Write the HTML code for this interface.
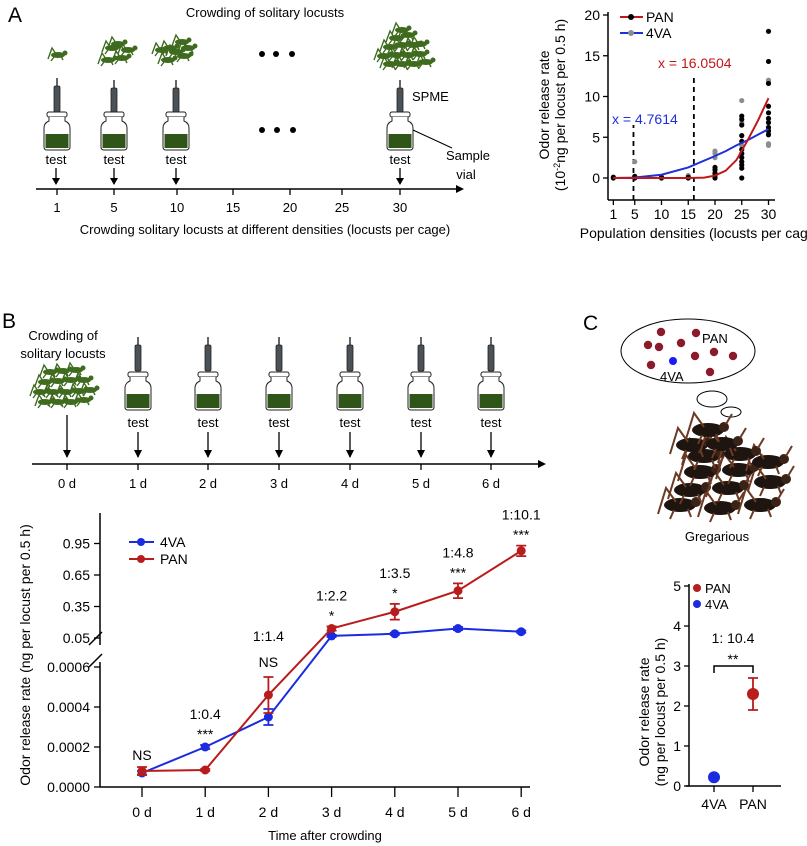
<!DOCTYPE html>
<html><head><meta charset="utf-8">
<style>
body{margin:0;background:#fff;}
svg{display:block;font-family:"Liberation Sans",Arial,sans-serif;}
</style></head>
<body>
<svg id="fig" width="807" height="846" viewBox="0 0 807 846" xmlns="http://www.w3.org/2000/svg">
<defs>
  <g id="locust">
    <ellipse cx="0" cy="0" rx="7" ry="3" fill="#3f6b1f"/>
    <circle cx="7" cy="-2" r="2.5" fill="#3f6b1f"/>
    <path d="M-2,-1 L-6,-7 L-10,4 M3,1 L5,5 M-4,2 L-7,6" stroke="#3f6b1f" stroke-width="1.4" fill="none"/>
  </g>
  <g id="blocust">
    <ellipse cx="0" cy="0" rx="16" ry="7" fill="#1e1410"/>
    <circle cx="16" cy="-3" r="5" fill="#3a2216"/>
    <path d="M-4,-3 L-14,-17 L-22,9 M8,4 L11,12 M-6,5 L-10,14 M18,-6 L24,-16" stroke="#6b3a22" stroke-width="2" fill="none"/>
  </g>
  <g id="syringe">
    <line x1="0" y1="0" x2="0" y2="8" stroke="#333" stroke-width="1.5"/>
    <rect x="-3" y="8" width="6" height="26" rx="1.5" fill="#4a5257" stroke="#222" stroke-width="0.8"/>
    <line x1="0" y1="34" x2="0" y2="58" stroke="#999" stroke-width="1"/>
  </g>
  <g id="vial">
    <rect x="-10" y="0" width="20" height="5" rx="2" fill="#fff" stroke="#222" stroke-width="1"/>
    <path d="M-8,5 L-8,9 Q-13,11 -13,16 L-13,35 Q-13,38 -10,38 L10,38 Q13,38 13,35 L13,16 Q13,11 8,9 L8,5" fill="#fff" stroke="#222" stroke-width="1"/>
    <rect x="-11.5" y="22" width="23" height="14" fill="#2f5618"/>
  </g>
</defs>

<!-- Panel A left -->
<g>
  <text x="8" y="22" font-size="21">A</text>
  <text x="265" y="17" font-size="13" text-anchor="middle">Crowding of solitary locusts</text>
  <use href="#locust" x="58" y="55"/>
  <use href="#locust" x="112" y="48"/><use href="#locust" x="108" y="60"/><use href="#locust" x="122" y="58"/><use href="#locust" x="118" y="44"/><use href="#locust" x="128" y="50"/>
  <use href="#locust" x="170" y="48"/><use href="#locust" x="182" y="42"/><use href="#locust" x="168" y="60"/><use href="#locust" x="184" y="56"/><use href="#locust" x="176" y="52"/><use href="#locust" x="188" y="48"/><use href="#locust" x="162" y="50"/>
  <g>
    <use href="#locust" x="390" y="64"/><use href="#locust" x="402" y="64"/><use href="#locust" x="414" y="64"/><use href="#locust" x="426" y="62"/>
    <use href="#locust" x="384" y="56"/><use href="#locust" x="396" y="55"/><use href="#locust" x="408" y="55"/><use href="#locust" x="420" y="54"/>
    <use href="#locust" x="390" y="47"/><use href="#locust" x="402" y="45"/><use href="#locust" x="414" y="45"/><use href="#locust" x="420" y="44"/>
    <use href="#locust" x="396" y="38"/><use href="#locust" x="408" y="35"/><use href="#locust" x="402" y="30"/>
  </g>
  <g fill="#000"><circle cx="262" cy="54" r="3"/><circle cx="276" cy="54" r="3"/><circle cx="292" cy="54" r="3"/>
  <circle cx="262" cy="130" r="3"/><circle cx="277" cy="130" r="3"/><circle cx="293" cy="130" r="3"/></g>
  <use href="#syringe" x="57" y="78"/><use href="#vial" x="57" y="112"/>
  <use href="#syringe" x="114" y="80"/><use href="#vial" x="114" y="112"/>
  <use href="#syringe" x="176" y="80"/><use href="#vial" x="176" y="112"/>
  <use href="#syringe" x="400" y="80"/><use href="#vial" x="400" y="112"/>
  <text x="412" y="101" font-size="13">SPME</text>
  <line x1="413" y1="130" x2="452" y2="148" stroke="#000" stroke-width="1"/>
  <text x="468" y="160" font-size="13" text-anchor="middle">Sample</text>
  <text x="466" y="179" font-size="13" text-anchor="middle">vial</text>
  <g font-size="13" text-anchor="middle">
    <text x="56" y="164">test</text><text x="114" y="164">test</text><text x="176" y="164">test</text><text x="400" y="164">test</text>
  </g>
  <g stroke="#000" stroke-width="1.3">
    <line x1="56" y1="168" x2="56" y2="184"/><line x1="114" y1="168" x2="114" y2="184"/><line x1="176" y1="168" x2="176" y2="184"/><line x1="400" y1="168" x2="400" y2="184"/>
  </g>
  <g fill="#000"><path d="M52,178 L56,185 L60,178Z"/><path d="M110,178 L114,185 L118,178Z"/><path d="M172,178 L176,185 L180,178Z"/><path d="M396,178 L400,185 L404,178Z"/></g>
  <line x1="36" y1="189" x2="460" y2="189" stroke="#000" stroke-width="1.5"/>
  <path d="M456,185 L464,189 L456,193Z" fill="#000"/>
  <g stroke="#000" stroke-width="1.3">
    <line x1="57" y1="189" x2="57" y2="195"/><line x1="114" y1="189" x2="114" y2="195"/><line x1="177" y1="189" x2="177" y2="195"/><line x1="233" y1="189" x2="233" y2="195"/><line x1="290" y1="189" x2="290" y2="195"/><line x1="342" y1="189" x2="342" y2="195"/><line x1="400" y1="189" x2="400" y2="195"/>
  </g>
  <g font-size="13" text-anchor="middle">
    <text x="57" y="212">1</text><text x="114" y="212">5</text><text x="177" y="212">10</text><text x="233" y="212">15</text><text x="290" y="212">20</text><text x="342" y="212">25</text><text x="400" y="212">30</text>
  </g>
  <text x="265" y="234" font-size="13" text-anchor="middle">Crowding solitary locusts at different densities (locusts per cage)</text>
</g>

<!-- Panel A right chart -->
<g id="chartA"></g>

<!-- Panel B schematic -->
<g>
  <text x="2" y="328" font-size="21">B</text>
  <text x="63" y="340" font-size="13" text-anchor="middle">Crowding of</text>
  <text x="63" y="358" font-size="13" text-anchor="middle">solitary locusts</text>
  <g>
    <use href="#locust" x="45" y="402"/><use href="#locust" x="58" y="402"/><use href="#locust" x="71" y="402"/><use href="#locust" x="84" y="400"/>
    <use href="#locust" x="40" y="392"/><use href="#locust" x="53" y="392"/><use href="#locust" x="66" y="392"/><use href="#locust" x="79" y="391"/><use href="#locust" x="90" y="390"/>
    <use href="#locust" x="45" y="382"/><use href="#locust" x="58" y="381"/><use href="#locust" x="71" y="380"/><use href="#locust" x="84" y="380"/>
    <use href="#locust" x="50" y="372"/><use href="#locust" x="63" y="371"/><use href="#locust" x="76" y="370"/>
  </g>
  <g id="bVials"></g>
  <line x1="32" y1="464" x2="541" y2="464" stroke="#000" stroke-width="1.5"/>
  <path d="M538,460 L546,464 L538,468Z" fill="#000"/>
</g>

<!-- Panel B chart -->
<g id="chartB"></g>

<!-- Panel C schematic -->
<g>
  <text x="583" y="330" font-size="21">C</text>
  <ellipse cx="688" cy="351" rx="67" ry="32" fill="#fff" stroke="#000" stroke-width="1"/>
  <g fill="#8b1a2b">
    <circle cx="661" cy="332" r="4.2"/><circle cx="696" cy="333" r="4.2"/><circle cx="681" cy="343" r="4.2"/><circle cx="648" cy="345" r="4.2"/><circle cx="659" cy="347" r="4.2"/>
    <circle cx="695" cy="356" r="4.2"/><circle cx="714" cy="352" r="4.2"/><circle cx="733" cy="356" r="4.2"/><circle cx="651" cy="365" r="4.2"/><circle cx="710" cy="372" r="4.2"/>
  </g>
  <circle cx="673" cy="361" r="4" fill="#1a1aff"/>
  <text x="702" y="343" font-size="13">PAN</text>
  <text x="660" y="381" font-size="13">4VA</text>
  <ellipse cx="712" cy="399" rx="15" ry="8" fill="#fff" stroke="#000"/>
  <ellipse cx="731" cy="412" rx="10" ry="5" fill="#fff" stroke="#000"/>
  <g>
    <use href="#blocust" x="680" y="505"/><use href="#blocust" x="720" y="508"/><use href="#blocust" x="760" y="505"/>
    <use href="#blocust" x="690" y="490"/><use href="#blocust" x="728" y="488"/><use href="#blocust" x="770" y="482"/>
    <use href="#blocust" x="700" y="472"/><use href="#blocust" x="738" y="470"/><use href="#blocust" x="768" y="462"/>
    <use href="#blocust" x="704" y="456"/><use href="#blocust" x="740" y="454"/>
    <use href="#blocust" x="692" y="445"/><use href="#blocust" x="722" y="444"/>
    <use href="#blocust" x="708" y="430"/>
  </g>
  <text x="717" y="541" font-size="13" text-anchor="middle">Gregarious</text>
</g>

<!-- Panel C chart -->
<g id="chartC"></g>
</svg>

<script>
const NS="http://www.w3.org/2000/svg";
function mk(parent,tag,attrs,text){const e=document.createElementNS(NS,tag);for(const k in attrs)e.setAttribute(k,attrs[k]);if(text!==undefined)e.textContent=text;parent.appendChild(e);return e;}

// ---------- Panel A chart data ----------
const aTickX=[1,5,10,15,20,25,30];
const aTickY=[0,5,10,15,20];
const panDotX=[1,1,5,5,5,10,10,15,15,20,20,20,20,20,25,25,25,25,25,25,25,25,25,25,25,25,30,30,30,30,30,30,30,30,30,30];
const panDotY=[0,0.1,0,0.1,0.2,0,0.1,0,0.1,0,0.3,0.6,1.0,1.3,0,1.2,1.6,2,2.5,3,3.5,4.5,5.2,6.5,7.2,7.6,18,14.3,11.6,8.8,8,7.3,6.8,6.2,5.8,5.3];
const vaDotX=[5,15,20,20,20,25,25,25,25,30,30,30,30,30,30];
const vaDotY=[2,0.3,2.5,3,3.3,9.5,6.8,4,3,12,11.8,6.2,5.5,4.2,4];
const panFitX=[1,5,10,15,18,20,22,24,26,28,30];
const panFitY=[0,0,0,0,0.05,0.3,0.9,2.2,4.5,7,9.8];
const vaFitX=[1,5,10,15,20,22,24,26,28,30];
const vaFitY=[0,0.05,0.4,1.3,2.7,3.3,4,4.6,5.3,6];
const thresholds=[4.7614,16.0504];

(function(){
 const g=document.getElementById('chartA');
 const xA=v=>608+v*5.35, yA=v=>178-v*8.15;
 mk(g,'line',{x1:608,y1:12,x2:608,y2:200,stroke:'#000','stroke-width':1.5});
 mk(g,'line',{x1:608,y1:200,x2:775,y2:200,stroke:'#000','stroke-width':1.5});
 aTickY.forEach(t=>{mk(g,'line',{x1:603,y1:yA(t),x2:608,y2:yA(t),stroke:'#000','stroke-width':1.3});
   const tx=mk(g,'text',{x:600,y:yA(t)+5,'font-size':14,'text-anchor':'end'},String(t));
   
   });
 aTickX.forEach(t=>{mk(g,'line',{x1:xA(t),y1:200,x2:xA(t),y2:205,stroke:'#000','stroke-width':1.3});
   const tx=mk(g,'text',{x:xA(t),y:219,'font-size':14,'text-anchor':'middle'},String(t));
   
   });
 const xt=mk(g,'text',{x:700,y:238,'font-size':14,'text-anchor':'middle'},'Population densities (locusts per cage)');
 
 
 const yt=mk(g,'text',{transform:'translate(563,105) rotate(-90)','font-size':14,'text-anchor':'middle'});
 
 
 mk(yt,'tspan',{x:0,dy:-14},'Odor release rate');
 mk(yt,'tspan',{x:0,dy:16},'(10');mk(yt,'tspan',{'font-size':9,dy:-5},'-2');mk(yt,'tspan',{dy:5},'ng per locust per 0.5 h)');
 thresholds.forEach((t,i)=>{const l=mk(g,'line',{x1:xA(t),y1:200,x2:xA(t),y2:i?76:125,stroke:'#000','stroke-width':1.8,'stroke-dasharray':'5,4'});
   
   });
 vaDotX.forEach((x,i)=>{const c=mk(g,'circle',{cx:xA(x),cy:yA(vaDotY[i]),r:2.6,fill:'#8a8e90'});
   
   });
 panDotX.forEach((x,i)=>{const c=mk(g,'circle',{cx:xA(x),cy:yA(panDotY[i]),r:2.6,fill:'#000'});
   
   });
 const pv=mk(g,'polyline',{points:vaFitX.map((x,i)=>xA(x)+','+yA(vaFitY[i])).join(' '),fill:'none',stroke:'#2030d8','stroke-width':2});
 
 
 const pp=mk(g,'polyline',{points:panFitX.map((x,i)=>xA(x)+','+yA(panFitY[i])).join(' '),fill:'none',stroke:'#c01818','stroke-width':2});
 
 
 mk(g,'text',{x:658,y:68,'font-size':14,fill:'#c01818'},'x = 16.0504');
 mk(g,'text',{x:612,y:124,'font-size':14,fill:'#2030d8'},'x = 4.7614');
 mk(g,'line',{x1:620,y1:17,x2:643,y2:17,stroke:'#c01818','stroke-width':2});mk(g,'circle',{cx:631,cy:17,r:3,fill:'#000'});
 const l1=mk(g,'text',{x:646,y:22,'font-size':14},'PAN');
 
 
 mk(g,'line',{x1:620,y1:33,x2:643,y2:33,stroke:'#2030d8','stroke-width':2});mk(g,'circle',{cx:631,cy:33,r:3,fill:'#8a8e90'});
 const l2=mk(g,'text',{x:646,y:38,'font-size':14},'4VA');
 
 
})();

// ---------- Panel B schematic vials ----------
const bDays=['0 d','1 d','2 d','3 d','4 d','5 d','6 d'];
(function(){
 const g=document.getElementById('bVials');
 const xs=[67,138,208,279,350,421,491];
 xs.forEach((x,i)=>{
   if(i>0){mk(g,'use',{href:'#syringe',x:x,y:337});mk(g,'use',{href:'#vial',x:x,y:372});
     mk(g,'text',{x:x,y:427,'font-size':13,'text-anchor':'middle'},'test');}
   const top=i>0?432:415;
   mk(g,'line',{x1:x,y1:top,x2:x,y2:457,stroke:'#000','stroke-width':1.3});
   mk(g,'path',{d:`M${x-4},450 L${x},458 L${x+4},450Z`,fill:'#000'});
   mk(g,'line',{x1:x,y1:464,x2:x,y2:470,stroke:'#000','stroke-width':1.3});
   const t=mk(g,'text',{x:x,y:488,'font-size':13,'text-anchor':'middle'},bDays[i]);
   
   
 });
})();

// ---------- Panel B chart data ----------
const days=['0 d','1 d','2 d','3 d','4 d','5 d','6 d'];
const vaMean=[0.00007,0.0002,0.00035,0.07,0.09,0.14,0.11];
const vaErr=[0.00001,0.00001,0.00004,0.01,0.01,0.015,0.01];
const panMean=[0.00008,0.000085,0.00046,0.14,0.30,0.50,0.88];
const panErr=[0.00002,0.000005,0.00009,0.02,0.075,0.07,0.05];
const lowTicks=[0,0.0002,0.0004,0.0006];
const lowTickLabels=['0.0000','0.0002','0.0004','0.0006'];
const highTicks=[0.05,0.35,0.65,0.95];
const highTickLabels=['0.05','0.35','0.65','0.95'];
const ratioLabels=['','1:0.4','1:1.4','1:2.2','1:3.5','1:4.8','1:10.1'];
const sigLabels=['NS','***','NS','*','*','***','***'];

(function(){
 const g=document.getElementById('chartB');
 const xB=i=>142+i*63.2;
 const yB=v=>v<0.01?787-v/0.0006*120:638-(v-0.05)/0.3*31.5;
 mk(g,'line',{x1:100,y1:787,x2:100,y2:662,stroke:'#000','stroke-width':1.5});
 mk(g,'line',{x1:100,y1:645,x2:100,y2:513,stroke:'#000','stroke-width':1.5});
 mk(g,'line',{x1:89,y1:667,x2:102,y2:654,stroke:'#000','stroke-width':1.5});
 mk(g,'line',{x1:89,y1:645,x2:102,y2:632,stroke:'#000','stroke-width':1.5});
 mk(g,'line',{x1:100,y1:787,x2:530,y2:787,stroke:'#000','stroke-width':1.5});
 lowTicks.forEach((t,i)=>{mk(g,'line',{x1:94,y1:yB(t),x2:100,y2:yB(t),stroke:'#000','stroke-width':1.3});
   const tx=mk(g,'text',{x:90,y:yB(t)+5,'font-size':14,'text-anchor':'end'},lowTickLabels[i]);
   
   });
 highTicks.forEach((t,i)=>{mk(g,'line',{x1:94,y1:yB(t),x2:100,y2:yB(t),stroke:'#000','stroke-width':1.3});
   const tx=mk(g,'text',{x:90,y:yB(t)+5,'font-size':14,'text-anchor':'end'},highTickLabels[i]);
   
   });
 days.forEach((d,i)=>{mk(g,'line',{x1:xB(i),y1:787,x2:xB(i),y2:797,stroke:'#000','stroke-width':1.3});
   const tx=mk(g,'text',{x:xB(i),y:817,'font-size':14,'text-anchor':'middle'},d);
   
   });
 const xt=mk(g,'text',{x:325,y:840,'font-size':13,'text-anchor':'middle'},'Time after crowding');
 
 
 const yt=mk(g,'text',{transform:'translate(30,655) rotate(-90)','font-size':14,'text-anchor':'middle'},'Odor release rate (ng per locust per 0.5 h)');
 
 
 function series(mean,err,color,name){
   const p=mk(g,'polyline',{points:mean.map((v,i)=>xB(i)+','+yB(v)).join(' '),fill:'none',stroke:color,'stroke-width':2});
   
   
   mean.forEach((v,i)=>{const x=xB(i),y1=yB(v+err[i]),y2=yB(Math.max(v-err[i],0));
     mk(g,'path',{d:`M${x},${y1} L${x},${y2} M${x-5},${y1} L${x+5},${y1} M${x-5},${y2} L${x+5},${y2}`,stroke:color,'stroke-width':1.8,fill:'none'});
     const c=mk(g,'circle',{cx:x,cy:yB(v),r:4.5,fill:color});
     
     });
 }
 series(vaMean,vaErr,'#1a2be0','4va');
 series(panMean,panErr,'#b81c1c','pan');
 days.forEach((d,i)=>{const top=Math.min(yB(vaMean[i]+vaErr[i]),yB(panMean[i]+panErr[i]));
   let sy=top-6; if(i===2) sy=667; if(i===0) sy=760;
   const s=mk(g,'text',{x:xB(i),y:sy,'font-size':14,'text-anchor':'middle'},sigLabels[i]);
   
   
   if(ratioLabels[i]){const ry=i===2?641:sy-20;
     const r=mk(g,'text',{x:xB(i),y:ry,'font-size':14,'text-anchor':'middle'},ratioLabels[i]);
     
     }});
 mk(g,'line',{x1:129,y1:542,x2:154,y2:542,stroke:'#1a2be0','stroke-width':2});mk(g,'circle',{cx:141,cy:542,r:4,fill:'#1a2be0'});
 const l1=mk(g,'text',{x:160,y:547,'font-size':14},'4VA');
 
 
 mk(g,'line',{x1:129,y1:559,x2:154,y2:559,stroke:'#b81c1c','stroke-width':2});mk(g,'circle',{cx:141,cy:559,r:4,fill:'#b81c1c'});
 const l2=mk(g,'text',{x:160,y:564,'font-size':14},'PAN');
 
 
})();

// ---------- Panel C chart data ----------
const cCats=['4VA','PAN'];
const cMean=[0.22,2.3];
const cErr=[0,0.4];
const cTicks=[0,1,2,3,4,5];
(function(){
 const g=document.getElementById('chartC');
 const xC=i=>714+i*39, yC=v=>786-v*40;
 const colors=['#1a2be0','#b81c1c'];
 mk(g,'line',{x1:689,y1:786,x2:689,y2:584,stroke:'#000','stroke-width':1.5});
 mk(g,'line',{x1:686,y1:786,x2:781,y2:786,stroke:'#000','stroke-width':1.5});
 cTicks.forEach(t=>{mk(g,'line',{x1:684,y1:yC(t),x2:689,y2:yC(t),stroke:'#000','stroke-width':1.3});
   const tx=mk(g,'text',{x:681,y:yC(t)+5,'font-size':14,'text-anchor':'end'},String(t));
   
   });
 cCats.forEach((c,i)=>{mk(g,'line',{x1:xC(i),y1:786,x2:xC(i),y2:792,stroke:'#000','stroke-width':1.3});
   const tx=mk(g,'text',{x:xC(i),y:809,'font-size':14,'text-anchor':'middle'},c);
   
   
   const x=xC(i),y1=yC(cMean[i]+cErr[i]),y2=yC(cMean[i]-cErr[i]);
   if(cErr[i]>0) mk(g,'path',{d:`M${x},${y1} L${x},${y2} M${x-5},${y1} L${x+5},${y1} M${x-5},${y2} L${x+5},${y2}`,stroke:colors[i],'stroke-width':1.8,fill:'none'});
   const pt=mk(g,'circle',{cx:x,cy:yC(cMean[i]),r:6,fill:colors[i]});
   
   });
 const yt=mk(g,'text',{transform:'translate(655,712) rotate(-90)','font-size':14,'text-anchor':'middle'});
 
 
 mk(yt,'tspan',{x:0,dy:-6},'Odor release rate');mk(yt,'tspan',{x:0,dy:16},'(ng per locust per 0.5 h)');
 mk(g,'path',{d:`M${xC(0)},673 L${xC(0)},666 L${xC(1)},666 L${xC(1)},673`,stroke:'#000','stroke-width':1.5,fill:'none'});
 mk(g,'text',{x:733,y:664,'font-size':14,'text-anchor':'middle'},'**');
 const r=mk(g,'text',{x:733,y:643,'font-size':14,'text-anchor':'middle'},'1: 10.4');
 
 
 mk(g,'circle',{cx:697,cy:588,r:4,fill:'#b81c1c'});
 const l1=mk(g,'text',{x:705,y:593,'font-size':13},'PAN');
 
 
 mk(g,'circle',{cx:697,cy:604,r:4,fill:'#1a2be0'});
 const l2=mk(g,'text',{x:705,y:609,'font-size':13},'4VA');
 
 
})();
</script>
</body></html>
